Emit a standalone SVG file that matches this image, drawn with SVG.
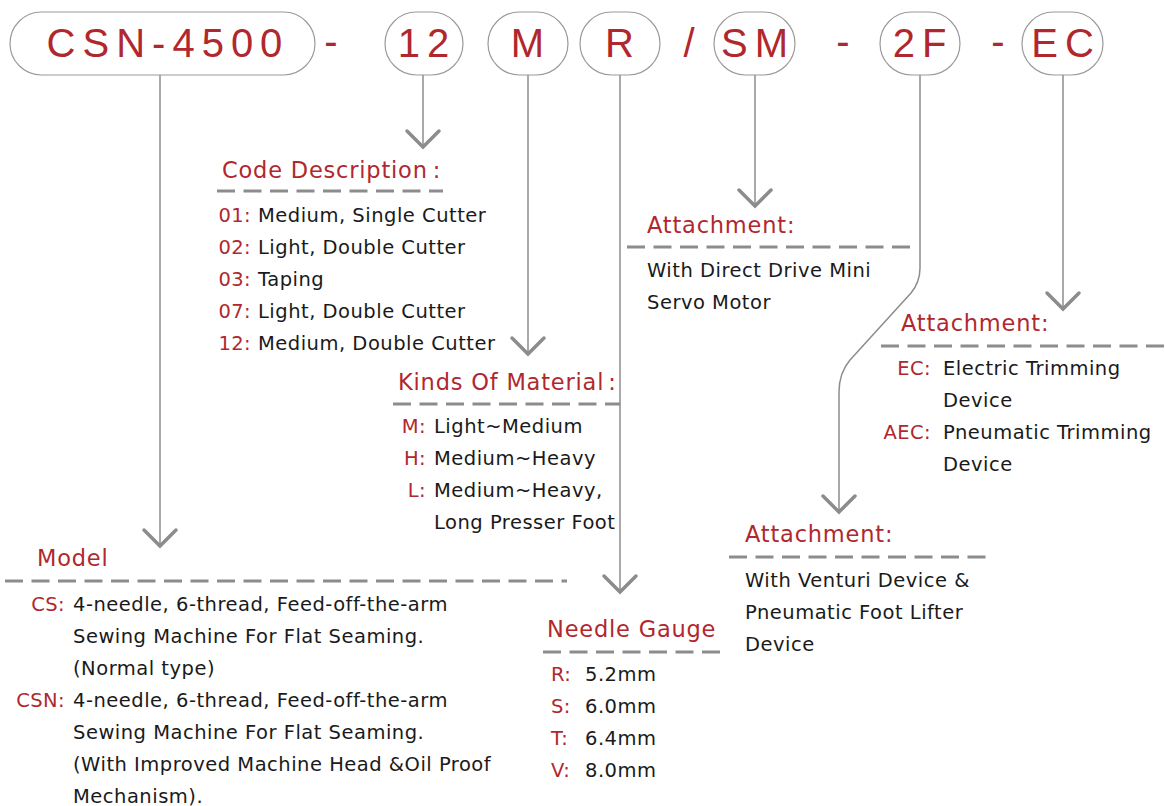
<svg xmlns="http://www.w3.org/2000/svg" width="1165" height="806" viewBox="0 0 1165 806">
<style>
.pill{fill:#fff;stroke:#9a9a9a;stroke-width:1.2}
.code{font-family:"Liberation Sans",Arial,sans-serif;font-size:40px;fill:#b0282e;letter-spacing:7px}
.sep{font-family:"Liberation Sans",Arial,sans-serif;font-size:40px;fill:#b0282e}
.head{font-family:"DejaVu Sans",sans-serif;font-size:22.5px;fill:#b0282e;letter-spacing:0.8px}
.key{font-family:"DejaVu Sans",sans-serif;font-size:19.5px;fill:#b0282e;letter-spacing:0.4px}
.txt{font-family:"DejaVu Sans",sans-serif;font-size:19.5px;fill:#1a1a1a;letter-spacing:0.5px}
.dash{stroke:#8c8c8c;stroke-width:3;stroke-dasharray:18 8.5;fill:none}
.conn{stroke:#8c8c8c;stroke-width:1.5;fill:none}
.chev{stroke:#8c8c8c;stroke-width:3.5;fill:none;stroke-linecap:round;stroke-linejoin:miter}
</style>
<rect width="1165" height="806" fill="#fff"/>
<g id="connectors">
<path class="conn" d="M160,75 V546"/>
<path class="chev" d="M144,530 L160,546 L176,530"/>
<path class="conn" d="M423,75 V147"/>
<path class="chev" d="M407,131 L423,147 L439,131"/>
<path class="conn" d="M528,75 V354"/>
<path class="chev" d="M512,338 L528,354 L544,338"/>
<path class="conn" d="M620,75 V592"/>
<path class="chev" d="M604,576 L620,592 L636,576"/>
<path class="conn" d="M755,75 V206"/>
<path class="chev" d="M739,190 L755,206 L771,190"/>
<path class="conn" d="M920,75 V268 Q920,282 911,293 L850,360 Q839,373 839,392 V512"/>
<path class="chev" d="M823,496 L839,512 L855,496"/>
<path class="conn" d="M1063,75 V309"/>
<path class="chev" d="M1047,293 L1063,309 L1079,293"/>
</g>
<g id="code-row">
<g id="n-csn"><rect class="pill" x="10" y="12" width="305" height="63" rx="31.5"/><text class="code" x="168" y="57" text-anchor="middle">CSN-4500</text></g>
<text class="sep" x="331" y="55" text-anchor="middle">-</text>
<g id="n-12"><rect class="pill" x="385" y="12" width="78" height="63" rx="31.5"/><text class="code" x="427" y="57" text-anchor="middle">12</text></g>
<g id="n-m"><rect class="pill" x="488" y="12" width="80" height="63" rx="31.5"/><text class="code" x="531" y="57" text-anchor="middle">M</text></g>
<g id="n-r"><rect class="pill" x="580" y="12" width="80" height="63" rx="31.5"/><text class="code" x="623" y="57" text-anchor="middle">R</text></g>
<text class="sep" x="689" y="57" text-anchor="middle">/</text>
<g id="n-sm"><rect class="pill" x="714" y="12" width="81" height="63" rx="31.5"/><text class="code" x="758" y="57" text-anchor="middle">SM</text></g>
<text class="sep" x="843" y="55" text-anchor="middle">-</text>
<g id="n-2f"><rect class="pill" x="880" y="12" width="80" height="63" rx="31.5"/><text class="code" x="923" y="57" text-anchor="middle">2F</text></g>
<text class="sep" x="998" y="55" text-anchor="middle">-</text>
<g id="n-ec"><rect class="pill" x="1022" y="12" width="81" height="63" rx="31.5"/><text class="code" x="1066" y="57" text-anchor="middle">EC</text></g>
</g>
<g id="sec-code">
<text class="head" x="222" y="178">Code Description<tspan dx="5">:</tspan></text>
<path class="dash" d="M217,191 H443"/>
<g text-anchor="end" class="key"><text x="251" y="222">01:</text><text x="251" y="254">02:</text><text x="251" y="286">03:</text><text x="251" y="318">07:</text><text x="251" y="350">12:</text></g>
<g class="txt"><text x="258" y="222">Medium, Single Cutter</text><text x="258" y="254">Light, Double Cutter</text><text x="258" y="286">Taping</text><text x="258" y="318">Light, Double Cutter</text><text x="258" y="350">Medium, Double Cutter</text></g>
</g>
<g id="sec-material">
<text class="head" x="398" y="390">Kinds Of Material<tspan dx="4">:</tspan></text>
<path class="dash" d="M393,404 H620"/>
<g text-anchor="end" class="key"><text x="426" y="433">M:</text><text x="426" y="465">H:</text><text x="426" y="497">L:</text></g>
<g class="txt"><text x="434" y="433">Light~Medium</text><text x="434" y="465">Medium~Heavy</text><text x="434" y="497">Medium~Heavy,</text><text x="434" y="529">Long Presser Foot</text></g>
</g>
<g id="sec-model">
<text class="head" x="37" y="566">Model</text>
<path class="dash" d="M5,581 H567"/>
<g text-anchor="end" class="key"><text x="65" y="611">CS:</text><text x="65" y="707">CSN:</text></g>
<g class="txt"><text x="73" y="611">4-needle, 6-thread, Feed-off-the-arm</text><text x="73" y="643">Sewing Machine For Flat Seaming.</text><text x="73" y="675">(Normal type)</text><text x="73" y="707">4-needle, 6-thread, Feed-off-the-arm</text><text x="73" y="739">Sewing Machine For Flat Seaming.</text><text x="73" y="771">(With Improved Machine Head &amp;Oil Proof</text><text x="73" y="803">Mechanism).</text></g>
</g>
<g id="sec-gauge">
<text class="head" x="547" y="637">Needle Gauge</text>
<path class="dash" d="M543,652 H720"/>
<g class="key"><text x="551" y="681">R:</text><text x="551" y="713">S:</text><text x="551" y="745">T:</text><text x="551" y="777">V:</text></g>
<g class="txt"><text x="585" y="681">5.2mm</text><text x="585" y="713">6.0mm</text><text x="585" y="745">6.4mm</text><text x="585" y="777">8.0mm</text></g>
</g>
<g id="sec-sm">
<text class="head" x="647" y="233">Attachment:</text>
<path class="dash" d="M627,247 H911"/>
<g class="txt"><text x="647" y="277">With Direct Drive Mini</text><text x="647" y="309">Servo Motor</text></g>
</g>
<g id="sec-ec">
<text class="head" x="901" y="331">Attachment:</text>
<path class="dash" d="M881,346 H1165"/>
<g text-anchor="end" class="key"><text x="931" y="375">EC:</text><text x="931" y="439">AEC:</text></g>
<g class="txt"><text x="943" y="375">Electric Trimming</text><text x="943" y="407">Device</text><text x="943" y="439">Pneumatic Trimming</text><text x="943" y="471">Device</text></g>
</g>
<g id="sec-2f">
<text class="head" x="745" y="542">Attachment:</text>
<path class="dash" d="M729,557 H987"/>
<g class="txt"><text x="745" y="587">With Venturi Device &amp;</text><text x="745" y="619">Pneumatic Foot Lifter</text><text x="745" y="651">Device</text></g>
</g>
</svg>
